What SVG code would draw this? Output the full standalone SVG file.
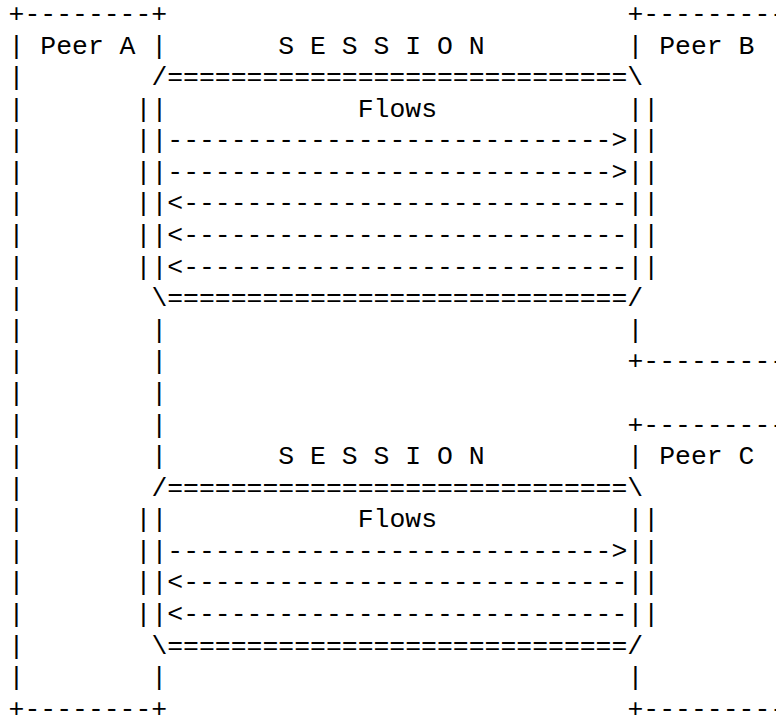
<svg xmlns="http://www.w3.org/2000/svg" width="776" height="715" viewBox="0 0 776 715" xml:space="preserve">
<style>
text { font-family: "Liberation Mono", "Courier New", monospace; font-size: 26.45px; fill: #000; white-space: pre; }
</style>
<rect width="776" height="715" fill="#fff"/>
<g id="peer-a">
<text x="8.57" y="22">+--------+</text>
<text x="8.57" y="53.58">| Peer A |</text>
<text x="8.57" y="85.16">|</text>
<text x="8.57" y="116.74">|</text>
<text x="8.57" y="148.32">|</text>
<text x="8.57" y="179.9">|</text>
<text x="8.57" y="211.48">|</text>
<text x="8.57" y="243.06">|</text>
<text x="8.57" y="274.64">|</text>
<text x="8.57" y="306.22">|</text>
<text x="8.57" y="337.8">|        |</text>
<text x="8.57" y="369.38">|        |</text>
<text x="8.57" y="400.96">|        |</text>
<text x="8.57" y="432.54">|        |</text>
<text x="8.57" y="464.12">|        |</text>
<text x="8.57" y="495.7">|</text>
<text x="8.57" y="527.28">|</text>
<text x="8.57" y="558.86">|</text>
<text x="8.57" y="590.44">|</text>
<text x="8.57" y="622.02">|</text>
<text x="8.57" y="653.6">|</text>
<text x="8.57" y="685.18">|        |</text>
<text x="8.57" y="716.76">+--------+</text>
</g>
<g id="peer-b">
<text x="627.5" y="22">+---------</text>
<text x="627.5" y="53.58">| Peer B</text>
<text x="627.5" y="337.8">|</text>
<text x="627.5" y="369.38">+---------</text>
</g>
<g id="peer-c">
<text x="627.5" y="432.54">+---------</text>
<text x="627.5" y="464.12">| Peer C</text>
<text x="627.5" y="685.18">|</text>
<text x="627.5" y="716.76">+---------</text>
</g>
<g id="session-1">
<text x="278.36" y="53.58">S E S S I O N</text>
<text x="151.4" y="85.16">/=============================\</text>
<text x="135.53" y="116.74">||</text><text x="357.71" y="116.74">Flows</text><text x="627.5" y="116.74">||</text>
<text x="135.53" y="148.32">||</text><text x="627.5" y="148.32">||</text>
<text x="135.53" y="179.9">||</text><text x="627.5" y="179.9">||</text>
<text x="135.53" y="211.48">||</text><text x="627.5" y="211.48">||</text>
<text x="135.53" y="243.06">||</text><text x="627.5" y="243.06">||</text>
<text x="135.53" y="274.64">||</text><text x="627.5" y="274.64">||</text>
<text x="151.4" y="306.22">\=============================/</text>
</g>
<g id="session-2">
<text x="278.36" y="464.12">S E S S I O N</text>
<text x="151.4" y="495.7">/=============================\</text>
<text x="135.53" y="527.28">||</text><text x="357.71" y="527.28">Flows</text><text x="627.5" y="527.28">||</text>
<text x="135.53" y="558.86">||</text><text x="627.5" y="558.86">||</text>
<text x="135.53" y="590.44">||</text><text x="627.5" y="590.44">||</text>
<text x="135.53" y="622.02">||</text><text x="627.5" y="622.02">||</text>
<text x="151.4" y="653.6">\=============================/</text>
</g>
<g id="connectors">
<text x="167.27" y="148.32">----------------------------&gt;</text>
<text x="167.27" y="179.9">----------------------------&gt;</text>
<text x="167.27" y="211.48">&lt;----------------------------</text>
<text x="167.27" y="243.06">&lt;----------------------------</text>
<text x="167.27" y="274.64">&lt;----------------------------</text>
<text x="167.27" y="558.86">----------------------------&gt;</text>
<text x="167.27" y="590.44">&lt;----------------------------</text>
<text x="167.27" y="622.02">&lt;----------------------------</text>
</g>
</svg>
